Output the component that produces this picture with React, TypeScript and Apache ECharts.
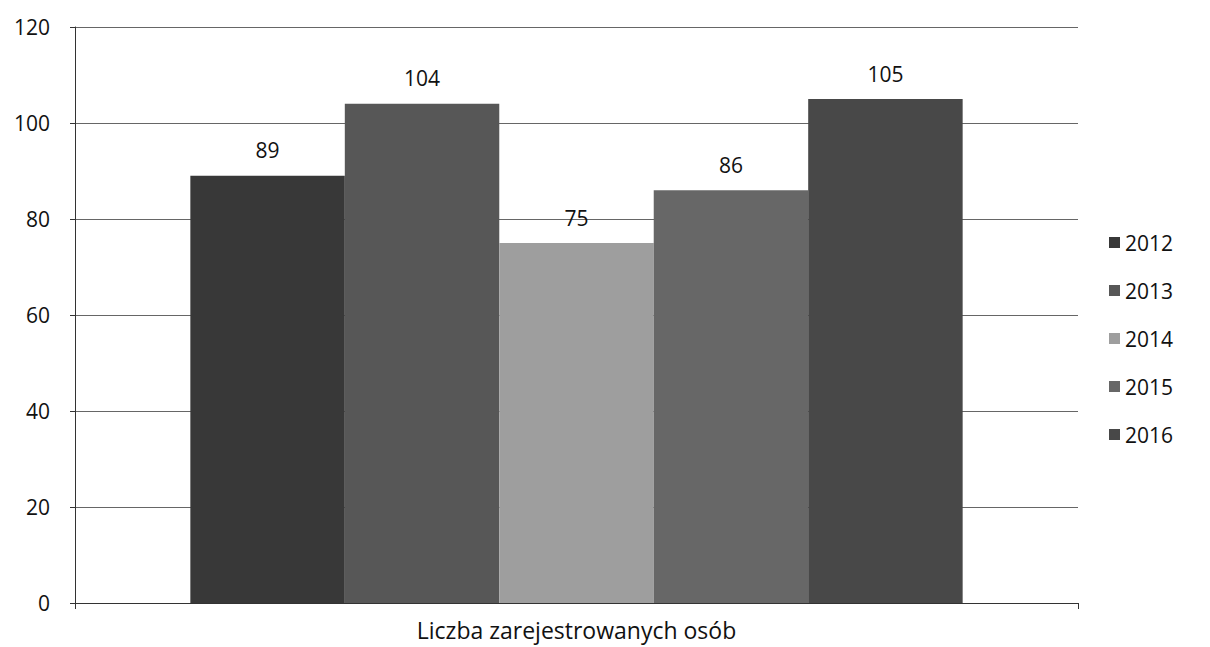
import React, { useEffect, useRef } from "react";
import * as echarts from "echarts";

const categories = ["Liczba zarejestrowanych osób"];
const seriesNames = ["2012", "2013", "2014", "2015", "2016"];
const values2012 = [89];
const values2013 = [104];
const values2014 = [75];
const values2015 = [86];
const values2016 = [105];
const yTicks = { min: 0, max: 120, interval: 20 };

const seriesValues = [values2012, values2013, values2014, values2015, values2016];
const colors = ["#383838", "#575757", "#9e9e9e", "#676767", "#484848"];
const FONT = "'Open Sans', 'Noto Sans', sans-serif";

export default function App() {
  const ref = useRef<HTMLDivElement>(null);
  useEffect(() => {
    if (!ref.current) return;
    const chart = echarts.init(ref.current, null, { renderer: "svg" });
    chart.setOption({
      animation: false,
      backgroundColor: "#ffffff",
      grid: { left: 75, right: 132, top: 27, bottom: 44, containLabel: false },
      legend: {
        orient: "vertical",
        left: 1104,
        top: 227,
        itemWidth: 11,
        itemHeight: 11,
        itemGap: 27,
        icon: "rect",
        textStyle: { fontFamily: FONT, fontSize: 21, color: "#111" },
        data: seriesNames,
      },
      xAxis: {
        type: "category",
        data: categories,
        axisLine: { lineStyle: { color: "#333" } },
        axisTick: { show: true, alignWithLabel: false, length: 6, lineStyle: { color: "#333" } },
        axisLabel: { fontFamily: FONT, fontSize: 23, lineHeight: 24, color: "#111", margin: 15 },
      },
      yAxis: {
        type: "value",
        min: yTicks.min,
        max: yTicks.max,
        interval: yTicks.interval,
        axisLine: { show: true, lineStyle: { color: "#333" } },
        axisTick: { show: true, length: 5, lineStyle: { color: "#333" } },
        axisLabel: { fontFamily: FONT, fontSize: 21, color: "#111", margin: 25 },
        splitLine: { lineStyle: { color: "#666", width: 1 } },
      },
      series: seriesNames.map((name, i) => ({
        name,
        type: "bar",
        data: seriesValues[i],
        barGap: "0%",
        barCategoryGap: "23%",
        itemStyle: { color: colors[i] },
        label: {
          show: true,
          position: "top",
          distance: 15,
          fontFamily: FONT,
          fontSize: 21,
          color: "#111",
        },
      })),
    });
    return () => chart.dispose();
  }, []);
  return (
    <div
      ref={ref}
      style={{ position: "absolute", left: 0, top: 0, width: 1210, height: 647 }}
    />
  );
}
